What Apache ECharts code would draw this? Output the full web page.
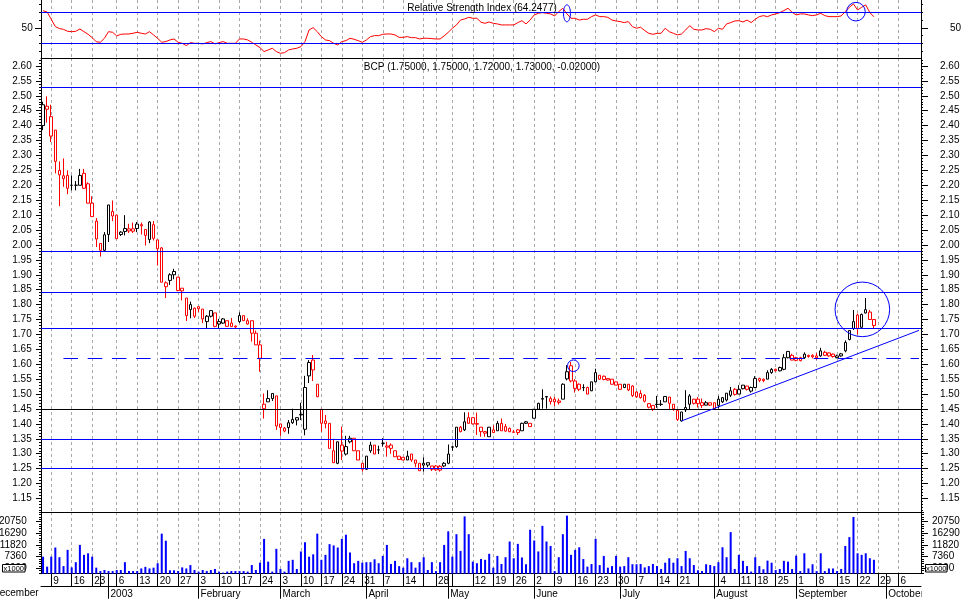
<!DOCTYPE html>
<html><head><meta charset="utf-8">
<script src="https://cdn.jsdelivr.net/npm/echarts@6/dist/echarts.min.js"></script>
<style>html,body{margin:0;padding:0;background:#fff}#c{width:964px;height:599px}</style>
</head><body><div id="c"></div>
<script>
// ---------- DATA ----------
const holidays = ['2002-12-24','2002-12-25','2002-12-26','2003-01-01','2003-04-21','2003-04-25','2003-05-01','2003-08-15'];
const hiddenWeekLabels = ['2002-12-30','2003-04-22','2003-05-05','2003-07-28'];
const monthNames = ['January','February','March','April','May','June','July','August','September','October','November','December'];

const opens = [2.40,2.455,2.43,2.385,2.25,2.222,2.233,2.20,2.20,2.20,
2.24,2.205,2.14,2.08,2.005,1.982,2.035,2.112,2.10,2.035,
2.045,2.054,2.054,2.055,2.068,2.052,2.018,2.068,2.017,1.99,
1.86,1.881,1.90,1.892,1.855,1.822,1.783,1.761,1.793,1.785,
1.743,1.761,1.772,1.735,1.738,1.746,1.738,1.728,1.743,1.763,
1.746,1.746,1.704,1.665,1.451,1.485,1.485,1.494,1.40,1.376,
1.388,1.404,1.413,1.43,1.382,1.561,1.614,1.533,1.449,1.41,
1.402,1.31,1.268,1.329,1.299,1.34,1.352,1.31,1.268,1.248,
1.31,1.329,1.313,1.335,1.326,1.329,1.31,1.292,1.288,1.279,
1.299,1.279,1.268,1.268,1.27,1.259,1.259,1.258,1.259,1.268,
1.322,1.324,1.389,1.38,1.421,1.421,1.401,1.389,1.374,1.357,
1.38,1.377,1.402,1.391,1.385,1.373,1.38,1.377,1.402,1.402,
1.419,1.449,1.483,1.49,1.475,1.474,1.477,1.483,1.551,1.595,
1.544,1.533,1.522,1.522,1.511,1.541,1.563,1.56,1.552,1.55,
1.541,1.533,1.522,1.533,1.527,1.507,1.502,1.496,1.468,1.462,
1.465,1.465,1.474,1.49,1.466,1.445,1.41,1.455,1.466,1.483,
1.483,1.471,1.463,1.471,1.471,1.462,1.474,1.48,1.496,1.516,
1.50,1.53,1.527,1.51,1.522,1.552,1.55,1.55,1.572,1.583,
1.578,1.583,1.622,1.63,1.622,1.622,1.622,1.63,1.63,1.628,
1.628,1.64,1.638,1.634,1.622,1.628,1.645,1.683,1.72,1.765,
1.724,1.772,1.775,1.75];
const highs = [2.48,2.498,2.47,2.385,2.28,2.29,2.25,2.233,2.214,2.255,
2.255,2.21,2.163,2.09,2.005,2.043,2.134,2.149,2.10,2.046,
2.10,2.071,2.075,2.077,2.075,2.052,2.08,2.08,2.017,1.993,
1.878,1.905,1.92,1.892,1.855,1.822,1.81,1.79,1.793,1.785,
1.765,1.78,1.772,1.752,1.755,1.746,1.755,1.73,1.774,1.763,
1.754,1.746,1.713,1.679,1.502,1.513,1.502,1.494,1.40,1.39,
1.413,1.451,1.421,1.471,1.561,1.614,1.631,1.533,1.449,1.43,
1.402,1.35,1.34,1.391,1.36,1.36,1.352,1.31,1.268,1.292,
1.34,1.329,1.327,1.352,1.34,1.335,1.31,1.292,1.288,1.31,
1.299,1.279,1.268,1.288,1.27,1.259,1.262,1.262,1.272,1.331,
1.327,1.389,1.393,1.439,1.439,1.422,1.438,1.389,1.376,1.39,
1.395,1.41,1.418,1.40,1.388,1.38,1.383,1.404,1.41,1.402,
1.45,1.471,1.516,1.492,1.492,1.49,1.485,1.536,1.597,1.608,
1.55,1.536,1.533,1.525,1.541,1.585,1.563,1.562,1.552,1.55,
1.541,1.533,1.533,1.533,1.53,1.51,1.513,1.50,1.47,1.462,
1.494,1.48,1.492,1.49,1.466,1.45,1.44,1.513,1.50,1.483,
1.49,1.485,1.477,1.471,1.471,1.494,1.49,1.503,1.524,1.52,
1.53,1.53,1.527,1.525,1.56,1.555,1.552,1.58,1.587,1.585,
1.592,1.634,1.643,1.635,1.625,1.625,1.64,1.632,1.633,1.637,
1.655,1.645,1.64,1.636,1.632,1.638,1.68,1.713,1.782,1.77,
1.77,1.822,1.782,1.75];
const lows = [2.385,2.41,2.345,2.24,2.13,2.195,2.17,2.183,2.183,2.20,
2.188,2.14,2.095,1.993,1.961,1.98,2.01,2.08,2.02,2.03,
2.032,2.04,2.04,2.043,2.035,1.998,2.006,2.015,1.931,1.875,
1.822,1.866,1.885,1.845,1.814,1.745,1.754,1.755,1.775,1.738,
1.72,1.757,1.724,1.72,1.735,1.727,1.726,1.722,1.738,1.746,
1.733,1.676,1.665,1.575,1.418,1.474,1.477,1.38,1.36,1.372,
1.367,1.40,1.395,1.413,1.362,1.537,1.544,1.49,1.374,1.385,
1.318,1.27,1.265,1.279,1.294,1.335,1.31,1.279,1.24,1.246,
1.303,1.299,1.299,1.324,1.29,1.30,1.29,1.281,1.279,1.279,
1.273,1.255,1.243,1.24,1.255,1.242,1.242,1.24,1.255,1.265,
1.31,1.32,1.372,1.376,1.40,1.398,1.363,1.357,1.357,1.357,
1.37,1.377,1.377,1.374,1.372,1.372,1.363,1.377,1.40,1.391,
1.419,1.449,1.451,1.451,1.465,1.46,1.465,1.483,1.546,1.539,
1.505,1.51,1.51,1.50,1.51,1.54,1.548,1.546,1.545,1.533,
1.53,1.516,1.52,1.51,1.49,1.487,1.485,1.472,1.452,1.443,
1.454,1.46,1.474,1.45,1.444,1.41,1.408,1.44,1.447,1.465,
1.455,1.453,1.462,1.46,1.452,1.452,1.47,1.475,1.49,1.495,
1.50,1.516,1.512,1.505,1.52,1.54,1.54,1.55,1.568,1.575,
1.576,1.58,1.62,1.614,1.61,1.61,1.618,1.622,1.62,1.615,
1.625,1.628,1.625,1.622,1.62,1.625,1.64,1.68,1.715,1.70,
1.72,1.77,1.75,1.72];
const closes = [2.47,2.465,2.365,2.28,2.235,2.232,2.19,2.20,2.20,2.233,
2.19,2.14,2.095,2.02,1.982,2.034,2.134,2.097,2.021,2.043,
2.055,2.047,2.046,2.07,2.064,2.032,2.077,2.022,1.987,1.875,
1.873,1.90,1.911,1.847,1.846,1.763,1.80,1.788,1.786,1.752,
1.761,1.78,1.727,1.743,1.752,1.727,1.726,1.725,1.763,1.746,
1.735,1.704,1.665,1.62,1.466,1.474,1.502,1.393,1.388,1.386,
1.404,1.415,1.421,1.432,1.522,1.606,1.581,1.491,1.402,1.401,
1.318,1.27,1.34,1.309,1.324,1.352,1.31,1.279,1.248,1.292,
1.329,1.299,1.313,1.335,1.322,1.318,1.29,1.281,1.279,1.292,
1.279,1.268,1.243,1.262,1.262,1.248,1.246,1.245,1.268,1.299,
1.323,1.389,1.374,1.407,1.402,1.40,1.399,1.374,1.369,1.389,
1.371,1.402,1.377,1.376,1.374,1.372,1.371,1.402,1.407,1.391,
1.449,1.469,1.485,1.492,1.485,1.483,1.472,1.533,1.575,1.544,
1.519,1.516,1.522,1.50,1.541,1.572,1.55,1.549,1.547,1.533,
1.53,1.516,1.533,1.514,1.495,1.491,1.488,1.476,1.456,1.45,
1.466,1.466,1.492,1.469,1.451,1.415,1.44,1.447,1.494,1.469,
1.468,1.462,1.471,1.463,1.452,1.483,1.488,1.503,1.511,1.499,
1.515,1.518,1.516,1.522,1.552,1.546,1.545,1.572,1.583,1.578,
1.589,1.622,1.643,1.614,1.613,1.612,1.634,1.626,1.625,1.622,
1.645,1.63,1.628,1.626,1.628,1.635,1.673,1.713,1.743,1.72,
1.767,1.783,1.75,1.73];
// volume, in units of 1000 shares
const volumes = [7350,3550,7350,10850,7150,3750,9950,3250,5250,11850,
8050,8650,7350,3150,1850,2250,1850,1850,2250,2250,
5250,1850,1850,1850,2850,3450,2850,3150,4850,16150,
13450,2150,2150,1850,3250,2850,4150,2250,1650,2250,
1850,2250,2650,1650,1250,1650,1850,1850,1850,1850,
1650,4150,2250,5050,14150,5450,1650,10350,2650,1650,
5750,6150,2650,9350,12850,7350,8250,16150,6150,8050,
12150,11650,10850,14150,15750,8950,4850,5750,5050,5250,
5250,6350,4850,7650,11850,4550,5750,3750,3150,6750,
5250,3150,5250,7150,2250,5250,1850,5250,11850,17050,
7350,15950,9550,22750,15950,5450,4850,
6450,6150,8450,3150,7650,4550,7150,13150,6750,12250,
7050,4450,17650,13550,9350,19150,13150,11450,1850,7150,
15950,23050,8050,9950,10950,6450,3550,4550,14150,4150,
7650,3150,3750,7650,3550,3750,7150,4450,4450,4550,
3250,3750,4550,3750,2650,5050,6750,5050,6750,3750,
9550,6750,4150,2150,1850,4450,4150,3750,5250,10950,
7150,16750,2650,8050,5750,3750,1650,7150,3750,2550,
5850,5050,2250,2650,5750,5450,2650,7750,1850,8650,
2850,4450,1850,8650,1850,2850,2850,1850,2650,11450,
14850,22550,8650,8050,8650,6750,6150];
const rsi = [72,70.4,61,51.5,49,48,45.5,45,45.5,48.5,
45,41.6,37.3,32,31.3,36.5,45,44.2,39.5,41.6,
42,42,43,44.2,43,42,45,40.8,36.5,31.3,
32.2,34.3,35.6,31.3,30,27,30.9,30,30,29.2,
30.9,32.2,29.2,30.9,32.2,30,30,30,35.6,35.6,
34.3,31.3,27.9,24.4,19.3,21.4,23.6,19.3,17.1,18,
21.4,22.7,23.6,25.7,32.2,47.2,50.2,45,38.6,34.3,
33.4,30,27.9,32.2,33.4,36.5,35.2,33.4,31.3,34.3,
38.6,39.9,39.9,41.6,42,42,40.8,37.7,37.7,38.6,
37.3,37.3,35.6,36.5,36.5,36,35.6,35.6,39.5,44.2,
49.4,53.7,60,61.4,63.5,62.3,62.3,
57.1,55.8,57.5,55.8,55,53.7,53.7,53.7,53.7,56.7,
59.2,55,60,66.6,68.7,69.6,68.7,67.9,65.3,70.9,
75.2,67.9,62.3,62.3,60,61,61,64.4,66.6,64.4,
64.4,63.5,60,58.8,58,56.7,58,51.5,49.4,50.7,
46.4,42.9,41.6,42.9,42.9,49.4,45,42.9,40.8,42,
47.2,52.8,48.1,47.2,47.2,48.9,48.1,45,49.4,48.1,
55,56.7,58.8,59.2,57.5,60,56.7,61,64.4,65.7,
64.4,66.6,67.9,69.6,72.2,75.2,70,66.6,67.9,67.9,
66.6,65.7,66.6,68.7,65.7,64.4,64.4,64.4,65.3,70.9,
76.5,80.8,73,76.5,79.5,69.6,64.2477];

const priceTickLabels = [1.15,1.20,1.25,1.30,1.35,1.40,1.45,1.50,1.55,1.60,1.65,1.70,1.75,1.80,1.85,1.90,1.95,2.00,2.05,2.10,2.15,2.20,2.25,2.30,2.35,2.40,2.45,2.50,2.55,2.60];
const volumeTickLabels = [2900,7360,11820,16290,20750];
const rsiTickLabels = [50];
const rsiMinorTicks = [20,30,40,60,70,80];
const rsiBands = [70,30];
const blueLevels = [2.533,1.983,1.842,1.72,1.35,1.25];
const blackLevel = 1.45;
const dashedLevel = 1.62;
const trendStart = {index:156, price:1.41};
const trendEnd = {index:214, price:1.7136};
const titlePrice = 'BCP (1.75000, 1.75000, 1.72000, 1.73000, -0.02000)';
const titleRsi = 'Relative Strength Index (64.2477)';

// ---------- CATEGORIES (trading days) ----------
const categories = [];
for (let t = Date.UTC(2002,11,5); t <= Date.UTC(2003,9,13); t += 86400000) {
  const d = new Date(t), dow = d.getUTCDay();
  if (dow === 0 || dow === 6) continue;
  const s = d.toISOString().slice(0,10);
  if (holidays.indexOf(s) >= 0) continue;
  categories.push(s);
}
const N = categories.length;
const dowOf = s => new Date(s + 'T00:00:00Z').getUTCDay();
const isWeekStart = categories.map((s,i) => i > 0 && i < N-1 && dowOf(s) <= dowOf(categories[i-1]));
const isMonthStart = categories.map((s,i) => i > 0 && s.slice(5,7) !== categories[i-1].slice(5,7));
const isGridLine = categories.map((s,i) => isWeekStart[i] && s !== '2002-12-30');
const isWeekLabel = categories.map((s,i) => isWeekStart[i] && hiddenWeekLabels.indexOf(s) < 0);

// ---------- STYLE ----------
const FONT = '"Liberation Sans", Arial, sans-serif';
const BLUE = '#0000ff', RED = '#ff0000', BLACK = '#000000';
const L = 41, R = 43;

const candleData = opens.map((o,i) => {
  const c = closes[i], prev = i > 0 ? closes[i-1] : c;
  const col = c < prev ? RED : BLACK;
  return {value:[o, c, lows[i], highs[i]],
    itemStyle:{color:'#ffffff', color0:col, borderColor:col, borderColor0:col, borderColorDoji:col, borderWidth:1}};
});

const splitCfg = {show:true, interval:(i)=>isGridLine[i], alignWithLabel:true,
  lineStyle:{color:'#a8a8a8', width:1, type:[3,3]}};
function xAx(grid, extra) {
  return Object.assign({type:'category', gridIndex:grid, data:categories, boundaryGap:true, position:'bottom',
    axisLine:{show:false, onZero:false}, axisTick:{show:false}, axisLabel:{show:false}, splitLine:{show:false}}, extra);
}
function yAx(grid, pos, min, max, ticks, len, labels, margin, line, fmt) {
  return {type:'value', gridIndex:grid, position:pos, min:min, max:max,
    axisLine:{show:line, lineStyle:{color:BLACK, width:1}},
    axisTick:{show:true, customValues:ticks, length:len, lineStyle:{color:BLACK, width:1}},
    axisLabel:{show:!!labels, customValues:labels || [], margin:margin, color:BLACK, fontSize:10, fontFamily:FONT,
      formatter: fmt || (v => String(v))},
    splitLine:{show:false}};
}
const priceMinor = []; for (let k = 111; k <= 262; k++) priceMinor.push(k/100);
const volMinor = []; for (let k = -2; k <= 24; k++) volMinor.push(2900 + 892*k);

const RMIN = 11.03, RMAX = 85.87, PMIN = 1.1047, PMAX = 2.6267, VMIN = 840, VMAX = 24440;
const pf = v => v.toFixed(2);

const option = {
  animation:false,
  backgroundColor:'#ffffff',
  textStyle:{fontFamily:FONT},
  grid:[
    {left:L, right:R, top:0, height:58, containLabel:false, outerBoundsMode:'none'},
    {left:L, right:R, top:58, height:454, containLabel:false, outerBoundsMode:'none'},
    {left:L, right:R, top:512, height:61.7, containLabel:false, outerBoundsMode:'none'}
  ],
  xAxis:[
    xAx(0, {axisLine:{show:true, onZero:false, lineStyle:{color:BLACK}}, splitLine:splitCfg}),
    xAx(1, {axisLine:{show:true, onZero:false, lineStyle:{color:BLACK}}, splitLine:splitCfg}),
    xAx(2, {axisLine:{show:true, onZero:false, lineStyle:{color:BLACK}}, splitLine:splitCfg,
      axisTick:{show:true, alignWithLabel:true, interval:(i)=>isWeekStart[i], length:13, lineStyle:{color:BLACK}},
      axisLabel:{show:true, interval:(i)=>isWeekLabel[i], formatter:(v)=>String(parseInt(v.slice(8),10)),
        align:'left', margin:2.3, padding:[0,0,0,2], fontSize:10, color:BLACK, fontFamily:FONT}}),
    xAx(2, {axisTick:{show:true, alignWithLabel:true, interval:(i)=>isMonthStart[i], length:25, lineStyle:{color:BLACK}},
      axisLabel:{show:true, interval:(i)=>isMonthStart[i],
        formatter:(v)=>{const m = parseInt(v.slice(5,7),10); return m === 1 ? v.slice(0,4) : monthNames[m-1];},
        align:'left', margin:15.3, padding:[0,0,0,2], fontSize:10, color:BLACK, fontFamily:FONT}}),
    xAx(2, {offset:13, axisLine:{show:true, onZero:false, lineStyle:{color:BLACK}}})
  ],
  yAxis:[
    yAx(0,'left',RMIN,RMAX,rsiTickLabels,6,rsiTickLabels,8.3,true),
    yAx(0,'left',RMIN,RMAX,rsiMinorTicks,2,null,8,false),
    yAx(0,'right',RMIN,RMAX,rsiTickLabels,7,rsiTickLabels,29,true),
    yAx(0,'right',RMIN,RMAX,rsiMinorTicks,2,null,8,false),
    yAx(1,'left',PMIN,PMAX,priceTickLabels,5,priceTickLabels,9.3,true,pf),
    yAx(1,'left',PMIN,PMAX,priceMinor,2,null,8,false),
    yAx(1,'right',PMIN,PMAX,priceTickLabels,7,priceTickLabels,19,true,pf),
    yAx(1,'right',PMIN,PMAX,priceMinor,2,null,8,false),
    yAx(2,'left',VMIN,VMAX,volumeTickLabels,5,volumeTickLabels,14.3,true),
    yAx(2,'left',VMIN,VMAX,volMinor,2,null,8,false),
    yAx(2,'right',VMIN,VMAX,volumeTickLabels,7,volumeTickLabels,11,true),
    yAx(2,'right',VMIN,VMAX,volMinor,3,null,8,false)
  ],
  series:[
    {type:'line', name:'RSI', xAxisIndex:0, yAxisIndex:0, data:rsi, showSymbol:false, symbol:'none',
      lineStyle:{color:RED, width:1}, itemStyle:{color:RED}, z:3,
      markLine:{silent:true, symbol:['none','none'], label:{show:false}, animation:false,
        lineStyle:{color:BLUE, width:1.2, type:'solid'}, data:rsiBands.map(v=>({yAxis:v}))}},
    {type:'candlestick', name:'BCP', xAxisIndex:1, yAxisIndex:4, data:candleData, barWidth:3, z:3,
      markLine:{silent:true, symbol:['none','none'], label:{show:false}, animation:false,
        lineStyle:{color:BLUE, width:1.2, type:'solid'},
        data:[
          ...blueLevels.map(v=>({yAxis:v})),
          {yAxis:blackLevel, lineStyle:{color:BLACK, width:1.2, type:'solid'}},
          [{coord:[categories[5], dashedLevel], lineStyle:{color:BLUE, width:1.2, type:[14.5,9.7]}},
           {coord:[categories[N-1], dashedLevel]}],
          [{coord:[categories[trendStart.index], trendStart.price], lineStyle:{color:BLUE, width:1, type:'solid'}},
           {coord:[categories[trendEnd.index], trendEnd.price]}]
        ]}},
    {type:'bar', name:'Volume', xAxisIndex:2, yAxisIndex:8, data:volumes, barWidth:2,
      itemStyle:{color:BLUE}, z:3}
  ]
};

const chart = echarts.init(document.getElementById('c'), null, {renderer:'canvas'});
chart.setOption(option);

// annotation positions derived from data coordinates
const px = (s, i, v) => chart.convertToPixel({seriesIndex:s}, [categories[i], v]);
const cBig = px(1, 200, 1.784);
const cSmall = px(1, 129, 1.595);
const cRsiEll = px(0, 128, 68.7);
const cRsiCirc = px(0, 199, 70.8);
const ring = {fill:'none', stroke:BLUE, lineWidth:1};
chart.setOption({graphic:[
  {type:'circle', z:50, silent:true, shape:{cx:cBig[0]+0.7, cy:cBig[1], r:27.3}, style:ring},
  {type:'circle', z:50, silent:true, shape:{cx:cSmall[0]+2.3, cy:cSmall[1], r:5.8}, style:ring},
  {type:'ellipse', z:50, silent:true, shape:{cx:cRsiEll[0], cy:cRsiEll[1], rx:3.5, ry:8.5}, style:ring},
  {type:'circle', z:50, silent:true, shape:{cx:cRsiCirc[0]-1.6, cy:cRsiCirc[1], r:9.3}, style:ring},
  {type:'text', z:60, silent:true, x:482, y:3, style:{text:titleRsi, fontSize:10, fontFamily:FONT, fill:BLACK, align:'center', verticalAlign:'top'}},
  {type:'text', z:60, silent:true, x:482, y:62, style:{text:titlePrice, fontSize:10, fontFamily:FONT, fill:BLACK, align:'center', verticalAlign:'top'}},
  {type:'text', z:60, silent:true, x:-7.5, y:588.5, style:{text:'December', fontSize:10, fontFamily:FONT, fill:BLACK, align:'left', verticalAlign:'top'}},
  {type:'rect', z:60, silent:true, shape:{x:921.5, y:587.5, width:43, height:12}, style:{fill:'#ffffff', stroke:null}},
  {type:'rect', z:60, silent:true, shape:{x:2.5, y:564.5, width:22.5, height:7.5}, style:{fill:'#ffffff', stroke:BLACK, lineWidth:1}},
  {type:'text', z:61, silent:true, x:13.75, y:565, style:{text:'x1000', fontSize:7.5, fontFamily:FONT, fill:BLACK, align:'center', verticalAlign:'top'}},
  {type:'rect', z:60, silent:true, shape:{x:925.5, y:564.5, width:21.5, height:7.5}, style:{fill:'#ffffff', stroke:BLACK, lineWidth:1}},
  {type:'text', z:61, silent:true, x:936.25, y:565, style:{text:'x1000', fontSize:7.5, fontFamily:FONT, fill:BLACK, align:'center', verticalAlign:'top'}}
]});
</script>
</body></html>
